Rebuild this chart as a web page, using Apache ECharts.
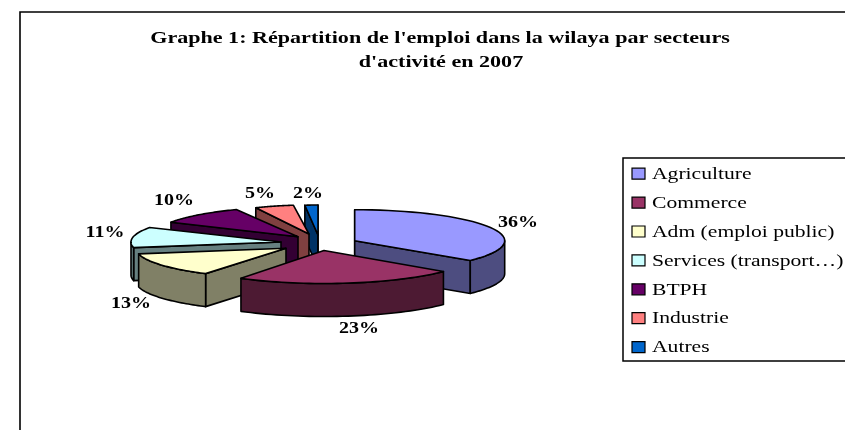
<!DOCTYPE html>
<html><head><meta charset="utf-8">
<style>html,body{margin:0;padding:0;background:#fff}#c{width:845px;height:430px}</style>
<script src="https://cdn.jsdelivr.net/npm/echarts@6/dist/echarts.min.js"></script>
</head><body><div id="c"></div>
<script>
const titleLines = ["Graphe 1: Répartition de l'emploi dans la wilaya par secteurs","d'activité en 2007"];
const categories = ['Agriculture','Commerce','Adm (emploi public)','Services (transport…)','BTPH','Industrie','Autres'];
const values = [36,23,13,11,10,5,2];
const colors = ['#9999ff','#993366','#ffffcc','#ccffff','#660066','#ff8080','#0066cc'];
const wallColors = ['#4d4d80','#4d1a33','#808066','#668080','#330033','#804040','#003366'];
// layout of the exploded pie
const apexes = [[354.7,240.7],[324,250.5],[286,248.3],[281,242],[298,236.7],[309,234],[318,235]];
const radiiX = [150,155,150,150,145,125,105];
const radiiY = [31,33,30,30,30,29,30];
const depth = 33;
const drawOrder = [6,7,5,4,3,2,1];
const labelPos = [[518,223],[359,329],[131,304],[105,233],[174,201],[260,194],[308,194]];
const total = values.reduce((a,b)=>a+b,0);

function renderSlice(i, api){
  const v = api.value(0);
  let before = 0; for(let k=0;k<i;k++) before += values[k];
  const a0 = before/total*2*Math.PI, a1 = (before+v)/total*2*Math.PI;
  const [ax,ay] = apexes[i], rx = radiiX[i], ry = radiiY[i];
  const pt = t => [ax+rx*Math.sin(t), ay-ry*Math.cos(t)];
  const down = p => [p[0], p[1]+depth];
  const style = (fill)=>({fill, stroke:'#000', lineWidth:1.6, lineJoin:'round'});
  const children = [];
  const P0 = pt(a0), P1 = pt(a1), M = pt((a0+a1)/2);
  const faceVisible = P => {
    const dx = P[0]-ax;
    if(Math.abs(dx)<1e-6) return true;
    const yAt = ay+(P[1]-ay)*(M[0]-ax)/dx;
    return M[1] < yAt;
  };
  [P0,P1].forEach(P=>{
    if(faceVisible(P)) children.push({type:'polygon',shape:{points:[[ax,ay],P,down(P),[ax,ay+depth]]},style:style(wallColors[i])});
  });
  // outer wall: only the front half of the ellipse is seen
  const lo = Math.max(a0,Math.PI/2), hi = Math.min(a1,1.5*Math.PI);
  if(hi>lo){
    const rim=[], n=40;
    for(let k=0;k<=n;k++) rim.push(pt(lo+(hi-lo)*k/n));
    const back = rim.slice().reverse().map(down);
    children.push({type:'polygon',shape:{points:rim.concat(back)},style:style(wallColors[i])});
  }
  const top=[[ax,ay]], n=40;
  for(let k=0;k<=n;k++) top.push(pt(a0+(a1-a0)*k/n));
  children.push({type:'polygon',shape:{points:top},style:style(colors[i])});
  children.push({type:'text',x:labelPos[i][0],y:labelPos[i][1],scaleX:1.25,z2:50,
    style:{text:v+'%',font:'bold 16px "Liberation Serif"',fill:'#000',align:'center',verticalAlign:'middle'}});
  return {type:'group',children};
}

const legendItems = [];
categories.forEach((name,i)=>{
  const y = 173.7+28.9*i;
  legendItems.push({type:'rect',shape:{x:632,y:y-5.5,width:13,height:11},style:{fill:colors[i],stroke:'#000',lineWidth:1.2},silent:true,z:20});
  legendItems.push({type:'text',x:652,y:y+1,scaleX:1.35,silent:true,z:20,
    style:{text:name,font:'16px "Liberation Serif"',fill:'#000',align:'left',verticalAlign:'middle'}});
});
const titleItems = titleLines.map((t,i)=>({type:'text',x:440+i,y:38.5+24*i,scaleX:1.38,silent:true,z:20,
  style:{text:t,font:'bold 16px "Liberation Serif"',fill:'#000',align:'center',verticalAlign:'middle'}}));

const chart = echarts.init(document.getElementById('c'),null,{renderer:'canvas'});
chart.setOption({
  animation:false,
  backgroundColor:'#fff',
  graphic:[
    {type:'rect',shape:{x:20,y:12,width:900,height:500},style:{fill:'none',stroke:'#000',lineWidth:1.6},silent:true,z:-1},
    {type:'rect',shape:{x:623,y:158,width:300,height:203},style:{fill:'#fff',stroke:'#000',lineWidth:1.5},silent:true,z:19}
  ].concat(titleItems,legendItems),
  series:categories.map((name,i)=>({
    type:'custom',name,coordinateSystem:'none',z:drawOrder[i],silent:true,
    itemStyle:{color:colors[i]},
    data:[[values[i]]],
    renderItem:(p,api)=>renderSlice(i,api)
  }))
});
</script></body></html>
